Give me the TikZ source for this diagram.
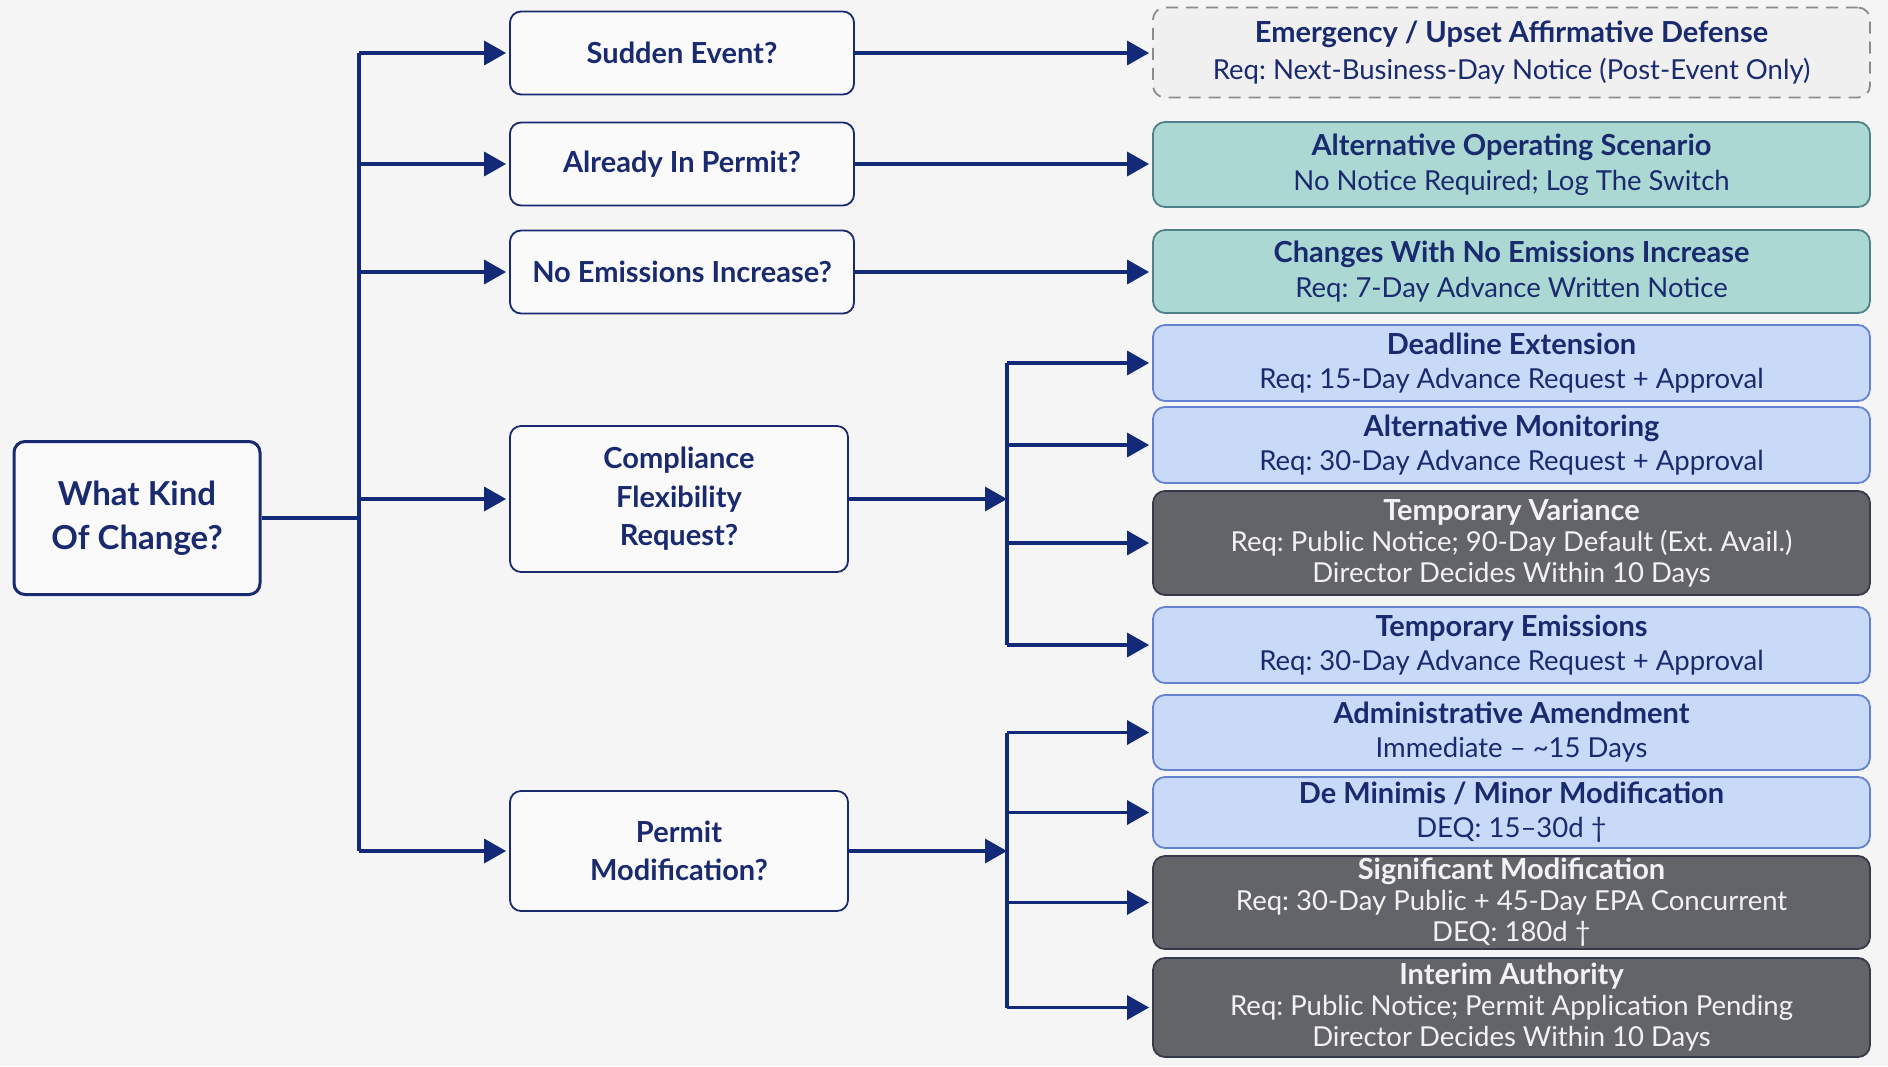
\documentclass[tikz,border=0pt]{standalone}
\usepackage{fontspec}
\setmainfont{Lato}
\frenchspacing
\usetikzlibrary{arrows.meta}
\definecolor{navy}{HTML}{1A2A6E}
\definecolor{arrblue}{HTML}{132A78}
\definecolor{bg}{HTML}{F6F5F5}
\definecolor{boxw}{HTML}{FAFAFB}
\definecolor{lbfill}{HTML}{C9DAF8}
\definecolor{lbdraw}{HTML}{6482CF}
\definecolor{tealfill}{HTML}{ABD8D3}
\definecolor{tealdraw}{HTML}{4F8288}
\definecolor{dkfill}{HTML}{636469}
\definecolor{dkdraw}{HTML}{363A48}
\definecolor{dktext}{HTML}{F2F2F2}
\definecolor{emfill}{HTML}{F0F0F0}
\definecolor{emdraw}{HTML}{8C8C8C}
\newcommand\rtitle[1]{{\fontsize{29}{34}\selectfont\bfseries #1}}
\tikzset{
  conn/.style={draw=arrblue, line width=3.4pt},
  arr/.style={conn, -{Triangle[length=22pt,width=24pt]}, shorten >=3pt},
  midbox/.style={draw=navy, line width=1.8pt, rounded corners=11pt, fill=boxw, text=navy,
    font=\fontsize{29}{38.5}\selectfont\bfseries, align=center, inner sep=0pt},
  rbox/.style={rounded corners=12pt, line width=1.8pt, align=center, inner sep=0pt,
    minimum width=717pt, font=\fontsize{27.5}{34}\selectfont},
  rthree/.style={rbox, font=\fontsize{27.5}{31}\selectfont},
  lblue/.style={fill=lbfill, draw=lbdraw, text=navy},
  teal/.style={fill=tealfill, draw=tealdraw, text=navy},
  dark/.style={fill=dkfill, draw=dkdraw, text=dktext},
  emerg/.style={fill=emfill, draw=emdraw, dash pattern=on 12pt off 8pt, text=navy},
}
\begin{document}
\begin{tikzpicture}[x=1pt,y=-1pt]
\useasboundingbox (0,0) rectangle (1888,1066);
\fill[bg] (0,0) rectangle (1888,1066);

% root
\node[midbox, line width=3pt, minimum width=246pt, minimum height=153pt,
  font=\fontsize{33}{44}\selectfont\bfseries] (root) at (137,518) {What Kind\\Of Change?};

% middle column
\node[midbox, minimum width=344pt, minimum height=83pt] (sudden) at (682,53) {Sudden Event?};
\node[midbox, minimum width=344pt, minimum height=83pt] (already) at (682,164) {Already In Permit?};
\node[midbox, minimum width=344pt, minimum height=83pt] (noem) at (682,272) {No Emissions Increase?};
\node[midbox, minimum width=338pt, minimum height=146pt] (comp) at (679,499) {Compliance\\Flexibility\\Request?};
\node[midbox, minimum width=338pt, minimum height=120pt] (perm) at (679,851) {Permit\\Modification?};

% right column
\node[rbox, emerg, minimum height=90pt] (em) at (1511.5,52.5)
  {\rtitle{Emergency / Upset Affirmative Defense}\\[3pt]Req: Next-Business-Day Notice (Post-Event Only)};
\node[rbox, teal, minimum height=85pt] (aos) at (1511.5,164.5)
  {\rtitle{Alternative Operating Scenario}\\[1pt]No Notice Required; Log The Switch};
\node[rbox, teal, minimum height=83pt] (cne) at (1511.5,271.5)
  {\rtitle{Changes With No Emissions Increase}\\[1pt]Req: 7-Day Advance Written Notice};
\node[rbox, lblue, minimum height=76pt] (dl) at (1511.5,363)
  {\rtitle{Deadline Extension}\\Req: 15-Day Advance Request + Approval};
\node[rbox, lblue, minimum height=76pt] (am) at (1511.5,445)
  {\rtitle{Alternative Monitoring}\\Req: 30-Day Advance Request + Approval};
\node[rthree, dark, minimum height=104pt] (tv) at (1511.5,543)
  {\rtitle{Temporary Variance}\\Req: Public Notice; 90-Day Default (Ext. Avail.)\\Director Decides Within 10 Days};
\node[rbox, lblue, minimum height=76pt] (te) at (1511.5,645)
  {\rtitle{Temporary Emissions}\\Req: 30-Day Advance Request + Approval};
\node[rbox, lblue, minimum height=75pt] (aa) at (1511.5,732.5)
  {\rtitle{Administrative Amendment}\\Immediate – \char"007E 15 Days};
\node[rbox, lblue, minimum height=71pt] (dm) at (1511.5,812.5)
  {\rtitle{De Minimis / Minor Modification}\\DEQ: 15–30d †};
\node[rthree, dark, minimum height=93pt] (sm) at (1511.5,902.5)
  {\rtitle{Significant Modification}\\Req: 30-Day Public + 45-Day EPA Concurrent\\DEQ: 180d †};
\node[rthree, dark, minimum height=99pt] (ia) at (1511.5,1007.5)
  {\rtitle{Interim Authority}\\Req: Public Notice; Permit Application Pending\\Director Decides Within 10 Days};

% main trunk
\coordinate (t) at (359,520);
\draw[conn] (root.east) -- (root.east -| t);
\draw[conn] (t |- sudden.west) -- (t |- perm.west);
\foreach \n in {sudden,already,noem,comp,perm}
  \draw[arr] (t |- \n.west) -- (\n.west);

% direct branches
\draw[arr] (sudden.east) -- (sudden.east -| em.west);
\draw[arr] (already.east) -- (already.east -| aos.west);
\draw[arr] (noem.east) -- (noem.east -| cne.west);

% compliance branch
\coordinate (c2) at (1007,497);
\draw[arr, shorten >=0pt] (comp.east) -- (comp.east -| c2);
\draw[conn] (c2 |- dl.west) -- (c2 |- te.west);
\foreach \n in {dl,am,tv,te}
  \draw[arr] (c2 |- \n.west) -- (\n.west);

% permit branch
\coordinate (p2) at (1007,852);
\draw[arr, shorten >=0pt] (perm.east) -- (perm.east -| p2);
\draw[conn] (p2 |- aa.west) -- (p2 |- ia.west);
\foreach \n in {aa,dm,sm,ia}
  \draw[arr] (p2 |- \n.west) -- (\n.west);
\end{tikzpicture}
\end{document}
